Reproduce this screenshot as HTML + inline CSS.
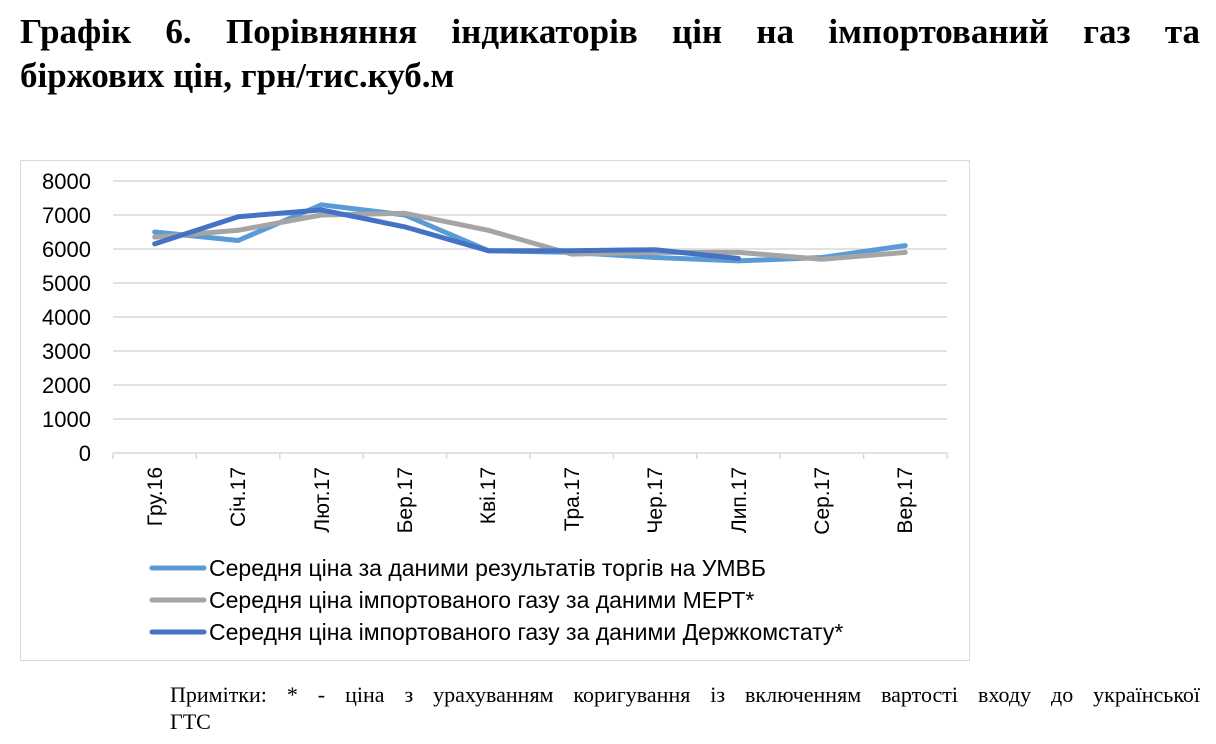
<!DOCTYPE html>
<html><head><meta charset="utf-8"><style>
body{margin:0;width:1216px;height:744px;background:#fff;overflow:hidden;position:relative}
.t{position:absolute;left:20px;top:10px;width:1180px;font:bold 35px "Liberation Serif",serif;color:#000;line-height:44px}
.t span{display:block;text-align:justify;text-align-last:justify}
.n{position:absolute;left:170px;top:681px;width:1030px;font:22px "Liberation Serif",serif;line-height:27px}
.n span{display:block;text-align:justify;text-align-last:justify}
</style></head><body>
<div class="t"><span>Графік 6. Порівняння індикаторів цін на імпортований газ та</span>біржових цін, грн/тис.куб.м</div>
<svg width="1216" height="744" style="position:absolute;left:0;top:0;z-index:-1">
<rect x="20.5" y="160.5" width="949" height="500" fill="none" stroke="#d9d9d9"/>
<g stroke="#d9d9d9" stroke-width="1.5">
<line x1="113" x2="947" y1="181" y2="181"/><line x1="113" x2="947" y1="215" y2="215"/><line x1="113" x2="947" y1="249" y2="249"/><line x1="113" x2="947" y1="283" y2="283"/><line x1="113" x2="947" y1="317" y2="317"/><line x1="113" x2="947" y1="351" y2="351"/><line x1="113" x2="947" y1="385" y2="385"/><line x1="113" x2="947" y1="419" y2="419"/><line x1="113" x2="947" y1="453" y2="453"/>
<line x1="113" x2="113" y1="453" y2="459"/><line x1="196.4" x2="196.4" y1="453" y2="459"/><line x1="279.8" x2="279.8" y1="453" y2="459"/><line x1="363.2" x2="363.2" y1="453" y2="459"/><line x1="446.6" x2="446.6" y1="453" y2="459"/><line x1="530" x2="530" y1="453" y2="459"/><line x1="613.4" x2="613.4" y1="453" y2="459"/><line x1="696.8" x2="696.8" y1="453" y2="459"/><line x1="780.2" x2="780.2" y1="453" y2="459"/><line x1="863.6" x2="863.6" y1="453" y2="459"/><line x1="947" x2="947" y1="453" y2="459"/>
</g>
<g font-family="Liberation Sans,sans-serif" font-size="22" text-anchor="end" fill="#000">
<text x="91" y="189">8000</text><text x="91" y="223">7000</text><text x="91" y="257">6000</text><text x="91" y="291">5000</text><text x="91" y="325">4000</text><text x="91" y="359">3000</text><text x="91" y="393">2000</text><text x="91" y="427">1000</text><text x="91" y="461">0</text>
</g>
<g font-family="Liberation Sans,sans-serif" font-size="21" text-anchor="end" fill="#000">
<text transform="translate(162,467) rotate(-90)">Гру.16</text>
<text transform="translate(245,467) rotate(-90)">Січ.17</text>
<text transform="translate(329,467) rotate(-90)">Лют.17</text>
<text transform="translate(412,467) rotate(-90)">Бер.17</text>
<text transform="translate(495,467) rotate(-90)">Кві.17</text>
<text transform="translate(579,467) rotate(-90)">Тра.17</text>
<text transform="translate(662,467) rotate(-90)">Чер.17</text>
<text transform="translate(746,467) rotate(-90)">Лип.17</text>
<text transform="translate(829,467) rotate(-90)">Сер.17</text>
<text transform="translate(912,467) rotate(-90)">Вер.17</text>
</g>
<g fill="none" stroke-width="5" stroke-linejoin="round" stroke-linecap="round">
<polyline stroke="#5b9bd5" points="154.7,232 238.1,240.5 321.5,204.8 404.9,215 488.3,250.7 571.7,252.4 655.1,257.5 738.5,260.9 821.9,257.5 905.3,245.6"/>
<polyline stroke="#a5a5a5" points="154.7,237.1 238.1,230.3 321.5,215 404.9,213.3 488.3,230.3 571.7,254.1 655.1,252.4 738.5,252.4 821.9,259.2 905.3,252.4"/>
<polyline stroke="#4472c4" points="154.7,243.9 238.1,216.7 321.5,209.9 404.9,226.9 488.3,250.7 571.7,250.7 655.1,249.7 738.5,258.5"/>
<line x1="152" x2="204" y1="568" y2="568" stroke="#5b9bd5"/>
<line x1="152" x2="204" y1="600" y2="600" stroke="#a5a5a5"/>
<line x1="152" x2="204" y1="632" y2="632" stroke="#4472c4"/>
</g>
<g font-family="Liberation Sans,sans-serif" font-size="23" fill="#000">
<text x="209" y="576">Середня ціна за даними результатів торгів на УМВБ</text>
<text x="209" y="608">Середня ціна імпортованого газу за даними МЕРТ*</text>
<text x="209" y="640">Середня ціна імпортованого газу за даними Держкомстату*</text>
</g>
</svg>
<div class="n"><span>Примітки: * - ціна з урахуванням коригування із включенням вартості входу до української</span>ГТС</div>
</body></html>
